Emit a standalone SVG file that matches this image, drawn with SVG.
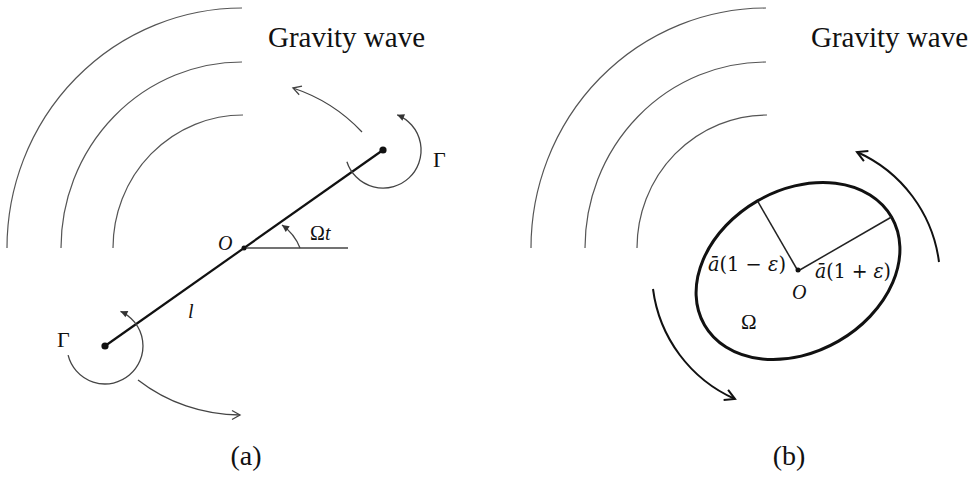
<svg xmlns="http://www.w3.org/2000/svg" width="976" height="480" viewBox="0 0 976 480">
<defs>
<style>
.wave{fill:none;stroke:#555;stroke-width:1.2}
.thin{fill:none;stroke:#444;stroke-width:1.3}
.thick{fill:none;stroke:#111;stroke-width:2}
.rod{stroke:#111;stroke-width:2.2}
.t{font-family:"Liberation Serif","Times New Roman",serif;fill:#111}
.m{font-family:"DejaVu Serif",serif;fill:#111}
.it{font-style:italic}
</style>
<marker id="open" markerUnits="userSpaceOnUse" markerWidth="14" markerHeight="14" viewBox="-10 -7 14 14" refX="0" refY="0" orient="auto"><path d="M-8,-4.5 L0,0 L-8,4.5" fill="none" stroke="#444" stroke-width="1.3"/></marker>
<marker id="openB" markerUnits="userSpaceOnUse" markerWidth="16" markerHeight="16" viewBox="-12 -8 16 16" refX="0" refY="0" orient="auto"><path d="M-10,-5.5 L0,0 L-10,5.5" fill="none" stroke="#111" stroke-width="2"/></marker>
<marker id="fill" markerUnits="userSpaceOnUse" markerWidth="12" markerHeight="12" viewBox="-9 -6 12 12" refX="0" refY="0" orient="auto"><path d="M-7,-3.5 L0,0 L-7,3.5 Z" fill="#333"/></marker>
</defs>
<rect width="976" height="480" fill="#fff"/>

<g id="waves-a">
<path class="wave" d="M7,248 A235 240 0 0 1 242,8"/>
<path class="wave" d="M61,248 A181 186 0 0 1 242,62"/>
<path class="wave" d="M113,248 A130 133 0 0 1 243,115"/>
</g>
<g id="waves-b">
<path class="wave" d="M531,248 A235 240 0 0 1 766,8"/>
<path class="wave" d="M585,248 A181 186 0 0 1 766,62"/>
<path class="wave" d="M637,248 A130 133 0 0 1 767,115"/>
</g>

<g id="rod">
<line class="rod" x1="105" y1="346" x2="383" y2="150"/>
<line class="thin" x1="244" y1="248" x2="348" y2="248"/>
</g>
<g id="mass-top"><circle cx="383" cy="150" r="3.6" fill="#111"/></g>
<g id="mass-bottom"><circle cx="105" cy="346" r="3.6" fill="#111"/></g>
<g id="origin-a"><circle cx="244" cy="248" r="2.5" fill="#111"/></g>

<g id="ellipse-body">
<ellipse cx="798" cy="271" rx="108" ry="81" transform="rotate(-30 798 271)" fill="none" stroke="#111" stroke-width="3"/>
<line x1="798" y1="271" x2="891.5" y2="217" stroke="#222" stroke-width="1.5"/>
<line x1="798" y1="271" x2="757.5" y2="200.9" stroke="#222" stroke-width="1.5"/>
<circle cx="798" cy="270" r="2.5" fill="#111"/>
</g>

<g id="connectors">
<path class="thin" d="M300,248 A50 50 0 0 0 282,225" marker-end="url(#fill)"/>
<path class="thin" d="M346.9,161.7 A38 38 0 1 0 397.2,114.8" marker-end="url(#fill)"/>
<path class="thin" d="M68.1,355.2 A38 38 0 1 0 120.5,311.3" marker-end="url(#fill)"/>
<path class="thin" d="M362,132 A166 166 0 0 0 293,88" marker-end="url(#open)"/>
<path class="thin" d="M138,380 A167 167 0 0 0 240,415" marker-end="url(#open)"/>
<path class="thick" d="M939,262 A140 140 0 0 0 857,152" marker-end="url(#openB)"/>
<path class="thick" d="M653,289 A140 140 0 0 0 735,399" marker-end="url(#openB)"/>
</g>

<g id="labels">
<text class="t" x="268" y="47" font-size="29">Gravity wave</text>
<text class="t" x="811" y="47" font-size="29">Gravity wave</text>
<text class="t" x="433" y="167" font-size="22">Γ</text>
<text class="t" x="57" y="347" font-size="22">Γ</text>
<text class="t it" x="218" y="250" font-size="20">O</text>
<text class="t" x="310" y="240" font-size="20">Ω<tspan class="it">t</tspan></text>
<text class="t it" x="188" y="318" font-size="20">l</text>
<text class="t" x="246" y="465" font-size="28" text-anchor="middle">(a)</text>
<text class="m" x="708" y="271" font-size="20" textLength="78" lengthAdjust="spacingAndGlyphs"><tspan class="it">ā</tspan>(1 − <tspan class="it">ε</tspan>)</text>
<text class="m" x="815" y="278" font-size="20" textLength="76" lengthAdjust="spacingAndGlyphs"><tspan class="it">ā</tspan>(1 + <tspan class="it">ε</tspan>)</text>
<text class="t it" x="792" y="299" font-size="20">O</text>
<text class="t" x="741" y="329" font-size="21">Ω</text>
<text class="t" x="789" y="465" font-size="28" text-anchor="middle">(b)</text>
</g>
</svg>
